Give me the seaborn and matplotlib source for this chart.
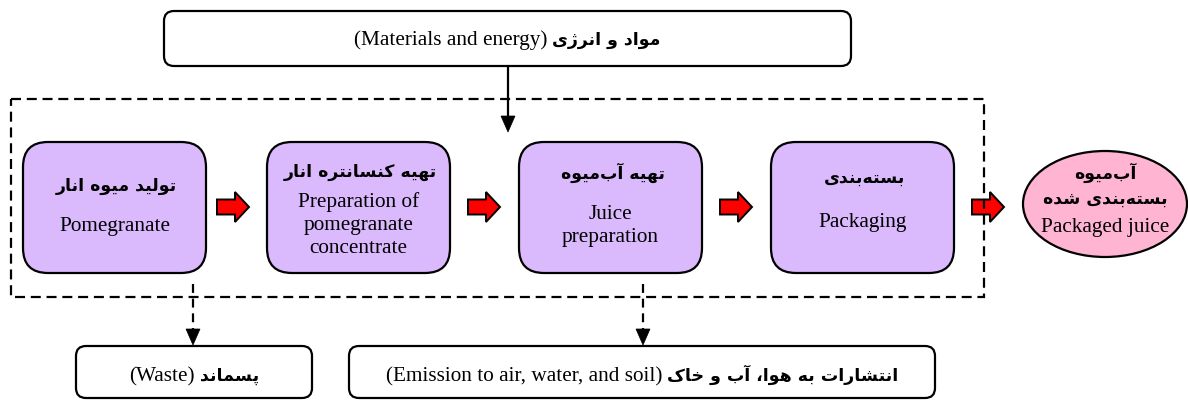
import matplotlib
matplotlib.use("Agg")
import matplotlib.pyplot as plt
import seaborn as sns
import numpy as np
from matplotlib.patches import FancyBboxPatch, Ellipse, FancyArrow, Polygon

# ---------------------------------------------------------------------------
# labels of the flow diagram
stage_fa = ["تولید میوه انار", "تهیه کنسانتره انار", "تهیه آب\u200cمیوه", "بسته\u200cبندی"]
stage_en = ["Pomegranate", "Preparation of\npomegranate\nconcentrate", "Juice\npreparation", "Packaging"]
product_fa = ["آب\u200cمیوه", "بسته\u200cبندی شده"]
product_en = "Packaged juice"
input_fa = "مواد و انرژی"
input_en = "(Materials and energy)"
waste_fa = "پسماند"
waste_en = "(Waste)"
emission_fa = "انتشارات به هوا، آب و خاک"
emission_en = "(Emission to air, water, and soil)"

# layout (pixels, y going down)
stage_x0 = [23, 267, 519, 771]
stage_w, stage_y0, stage_h = 183, 143, 131
stage_fa_y = [186, 172, 173, 178]
stage_en_y = [227, 225, 226, 223]
red_x0 = [217, 468, 720, 972]
red_y = 208

EN_FS = 15.3
FA_FS = 12.5
PURPLE = "#dbb9fd"
PINK = "#ffb4d2"

# ---------------------------------------------------------------------------
# small persian shaper (matplotlib has no arabic text layout)
FORMS = {
    '\u0627': ('\uFE8D', '\uFE8E', None, None),
    '\u0622': ('\uFE81', '\uFE82', None, None),
    '\u0628': ('\uFE8F', '\uFE90', '\uFE91', '\uFE92'),
    '\u067E': ('\uFB56', '\uFB57', '\uFB58', '\uFB59'),
    '\u062A': ('\uFE95', '\uFE96', '\uFE97', '\uFE98'),
    '\u062E': ('\uFEA5', '\uFEA6', '\uFEA7', '\uFEA8'),
    '\u062F': ('\uFEA9', '\uFEAA', None, None),
    '\u0631': ('\uFEAD', '\uFEAE', None, None),
    '\u0698': ('\uFB8A', '\uFB8B', None, None),
    '\u0633': ('\uFEB1', '\uFEB2', '\uFEB3', '\uFEB4'),
    '\u0634': ('\uFEB5', '\uFEB6', '\uFEB7', '\uFEB8'),
    '\u06A9': ('\uFB8E', '\uFB8F', '\uFB90', '\uFB91'),
    '\u0644': ('\uFEDD', '\uFEDE', '\uFEDF', '\uFEE0'),
    '\u0645': ('\uFEE1', '\uFEE2', '\uFEE3', '\uFEE4'),
    '\u0646': ('\uFEE5', '\uFEE6', '\uFEE7', '\uFEE8'),
    '\u0647': ('\uFEE9', '\uFEEA', '\uFEEB', '\uFEEC'),
    '\u0648': ('\uFEED', '\uFEEE', None, None),
    '\u06CC': ('\uFBFC', '\uFBFD', '\uFBFE', '\uFBFF'),
}


def shape_fa(s):
    out = []
    for i, ch in enumerate(s):
        if ch not in FORMS:
            if ch != '\u200c':
                out.append(ch)
            continue
        iso, fin, ini, med = FORMS[ch]
        prev = s[i - 1] if i > 0 else ''
        nxt = s[i + 1] if i + 1 < len(s) else ''
        join_prev = prev in FORMS and FORMS[prev][2] is not None
        join_next = ini is not None and nxt in FORMS
        if join_prev and join_next:
            out.append(med)
        elif join_prev:
            out.append(fin)
        elif join_next:
            out.append(ini)
        else:
            out.append(iso)
    return ''.join(reversed(out))


# ---------------------------------------------------------------------------
sns.set_theme(style="white")
plt.rcParams['font.family'] = ['Liberation Serif', 'DejaVu Sans']
plt.rcParams['text.color'] = 'black'

fig = plt.figure(figsize=(11.88, 4.02), dpi=100)
ax = fig.add_axes([0, 0, 1, 1])
ax.set_xlim(0, 1188)
ax.set_ylim(402, 0)
ax.axis('off')
renderer = fig.canvas.get_renderer()


def fa_text(x, y, s, **kw):
    return ax.text(x, y, shape_fa(s), fontsize=FA_FS, family='DejaVu Sans',
                   weight='bold', color='black', **kw)


def en_text(x, y, s, **kw):
    return ax.text(x, y, s, fontsize=EN_FS, family='Liberation Serif',
                   color='black', **kw)


def pair_label(xc, y, en, fa, gap=5):
    t_en = en_text(0, y, en, ha='left', va='baseline', zorder=5)
    t_fa = fa_text(0, y, fa, ha='left', va='baseline', zorder=5)
    w_en = t_en.get_window_extent(renderer).width
    w_fa = t_fa.get_window_extent(renderer).width
    x0 = xc - (w_en + gap + w_fa) / 2
    t_en.set_x(x0)
    t_fa.set_x(x0 + w_en + gap)


def round_box(x0, y0, w, h, r, fc, lw=1.6):
    ax.add_patch(FancyBboxPatch((x0, y0), w, h, boxstyle=f"round,pad=0,rounding_size={r}",
                                fc=fc, ec='black', lw=lw, zorder=3))


def arrow_head(x, y_tip, hw=7, hl=16):
    ax.add_patch(Polygon([[x - hw, y_tip - hl], [x + hw, y_tip - hl], [x, y_tip]],
                         closed=True, fc='black', ec='black', lw=0.5, zorder=4))


# dashed system boundary
ax.add_patch(plt.Rectangle((11, 100), 973, 198, fill=False, ec='black', lw=1.6,
                           ls=(0, (4.5, 2.6)), zorder=6))

# input box and arrow
round_box(164, 12, 687, 55, 10, 'white')
pair_label(507, 45, input_en, input_fa)
ax.plot([508, 508], [67, 118], color='black', lw=1.6, zorder=4)
arrow_head(508, 133)

# stages
for i in range(len(stage_fa)):
    x0 = stage_x0[i]
    round_box(x0, stage_y0, stage_w, stage_h, 25, PURPLE)
    xc = x0 + stage_w / 2
    fa_text(xc + 2, stage_fa_y[i], stage_fa[i], ha='center', va='center', zorder=5)
    en_text(xc, stage_en_y[i], stage_en[i], ha='center', va='center',
            linespacing=1.3, zorder=5)

# red block arrows
for x in red_x0:
    ax.add_patch(FancyArrow(x, red_y, 32, 0, width=15, head_width=30, head_length=14,
                            length_includes_head=True, fc='#ff0000', ec='black', lw=1.4,
                            zorder=4))

# product ellipse
ax.add_patch(Ellipse((1105, 205), 164, 106, fc=PINK, ec='black', lw=1.6, zorder=3))
fa_text(1105, 173, product_fa[0], ha='center', va='center', zorder=5)
fa_text(1105, 199, product_fa[1], ha='center', va='center', zorder=5)
en_text(1105, 228, product_en, ha='center', va='center', zorder=5)

# outputs
for xc in [193, 643]:
    ax.plot([xc, xc], [285, 331], color='black', lw=1.6, ls=(0, (4, 2.6)), zorder=4)
    arrow_head(xc, 346)

round_box(76, 347, 236, 52, 10, 'white')
pair_label(194, 381, waste_en, waste_fa)
round_box(349, 347, 586, 52, 10, 'white')
pair_label(642, 381, emission_en, emission_fa)

fig.savefig("out.png", dpi=100, facecolor='white')
